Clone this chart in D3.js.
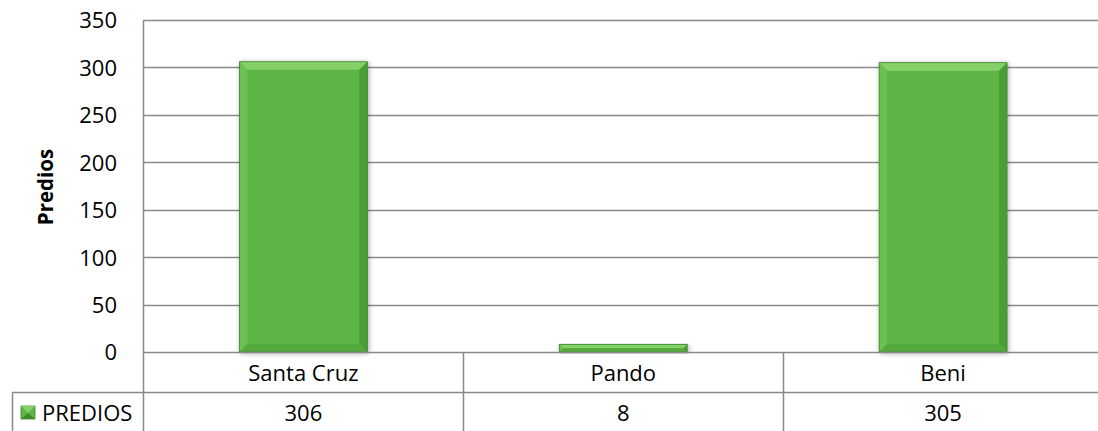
<!DOCTYPE html>
<html><head><meta charset="utf-8">
<script src="https://cdn.jsdelivr.net/npm/d3@7"></script>
<style>body{margin:0;background:#fff}svg{display:block}text{font-family:"Open Sans",sans-serif;fill:#000}</style>
</head><body>
<script>
const categories = ["Santa Cruz","Pando","Beni"];
const values = [306, 8, 305];
const seriesName = "PREDIOS";
const yTicks = [0,50,100,150,200,250,300,350];
const yTitle = "Predios";

const W=1098,H=431,FS=22;
const svg=d3.select("body").append("svg").attr("width",W).attr("height",H);
const defs=svg.append("defs");
const f=defs.append("filter").attr("id","sh").attr("x","-20%").attr("y","-20%").attr("width","140%").attr("height","140%");
f.append("feGaussianBlur").attr("in","SourceAlpha").attr("stdDeviation",2.5);
f.append("feOffset").attr("dx",1).attr("dy",1).attr("result","b");
f.append("feComponentTransfer").append("feFuncA").attr("type","linear").attr("slope",0.35);
const m=f.append("feMerge");m.append("feMergeNode");m.append("feMergeNode").attr("in","SourceGraphic");

const x=d3.scaleBand().domain(categories).range([143.5,1103]).padding(0);
const y=d3.scaleLinear().domain([0,350]).range([352,20]);
const grid="#8a8a8a";

svg.append("g").selectAll("line").data(yTicks.slice(1)).join("line")
 .attr("x1",143.5).attr("x2",W).attr("y1",d=>Math.round(y(d))+0.5).attr("y2",d=>Math.round(y(d))+0.5)
 .attr("stroke",grid).attr("stroke-width",1.5);

const ya=svg.append("g").attr("transform","translate(117,0)")
 .call(d3.axisLeft(y).tickValues(yTicks).tickSize(0).tickPadding(0));
ya.select(".domain").remove();
ya.selectAll("text").attr("font-family","Open Sans").attr("font-size",FS).attr("fill","#000").attr("dy","0.36em");

svg.append("text").attr("transform","translate(53,187) rotate(-90)").attr("text-anchor","middle")
 .attr("font-size",20.5).attr("font-weight","bold").text(yTitle);

const bw=x.bandwidth()*0.4;
const bars=svg.append("g").selectAll("g").data(categories).join("g").attr("filter","url(#sh)");
bars.each(function(c,i){
  const g=d3.select(this);
  const x0=x(c)+(x.bandwidth()-bw)/2, x1=x0+bw, y0=y(values[i]), y1=y(0);
  const b=Math.min(8,(y1-y0)/2);
  g.append("rect").attr("x",x0).attr("y",y0).attr("width",bw).attr("height",y1-y0).attr("fill","#5db544");
  g.append("polygon").attr("points",[[x0,y0],[x1,y0],[x1-b,y0+b],[x0+b,y0+b]].join(" ")).attr("fill","#86d06a");
  g.append("polygon").attr("points",[[x0,y0],[x0+b,y0+b],[x0+b,y1-b],[x0,y1]].join(" ")).attr("fill","#6cc052");
  g.append("polygon").attr("points",[[x1,y0],[x1,y1],[x1-b,y1-b],[x1-b,y0+b]].join(" ")).attr("fill","#4b9e35");
  g.append("polygon").attr("points",[[x0,y1],[x1,y1],[x1-b,y1-b],[x0+b,y1-b]].join(" ")).attr("fill","#52a93b");
  g.append("rect").attr("x",x0).attr("y",y0).attr("width",bw).attr("height",y1-y0).attr("fill","none").attr("stroke","#3f8a2c").attr("stroke-width",0.8);
});

const L=svg.append("g").attr("stroke",grid).attr("stroke-width",1.5);
L.append("line").attr("x1",143.5).attr("x2",143.5).attr("y1",20).attr("y2",H);
L.append("line").attr("x1",143.5).attr("x2",W).attr("y1",352.5).attr("y2",352.5);
L.append("line").attr("x1",12).attr("x2",W).attr("y1",392.5).attr("y2",392.5);
L.append("line").attr("x1",12.5).attr("x2",12.5).attr("y1",392.5).attr("y2",H);
L.selectAll(".v").data(categories.slice(1)).join("line").attr("class","v")
 .attr("x1",d=>Math.round(x(d))+0.5).attr("x2",d=>Math.round(x(d))+0.5).attr("y1",352).attr("y2",H);

svg.append("g").selectAll("text").data(categories).join("text")
 .attr("x",d=>x(d)+x.bandwidth()/2).attr("y",381).attr("text-anchor","middle").attr("font-size",FS).text(d=>d);
svg.append("g").selectAll("text").data(values).join("text")
 .attr("x",(d,i)=>x(categories[i])+x.bandwidth()/2).attr("y",421).attr("text-anchor","middle").attr("font-size",FS).text(d=>d);

const lg=defs.append("linearGradient").attr("id","lk").attr("x1",0).attr("y1",0).attr("x2",0).attr("y2",1);
svg.append("rect").attr("x",21).attr("y",406).attr("width",14).attr("height",13).attr("fill","#5db544").attr("stroke","#3f8a2c").attr("stroke-width",0.8);
svg.append("polygon").attr("points","21,406 35,406 28,413").attr("fill","#86d06a");
svg.append("polygon").attr("points","21,419 35,419 28,413").attr("fill","#3f8a2c");
svg.append("text").attr("x",42).attr("y",421).attr("font-size",FS).text(seriesName);
</script>
</body></html>
